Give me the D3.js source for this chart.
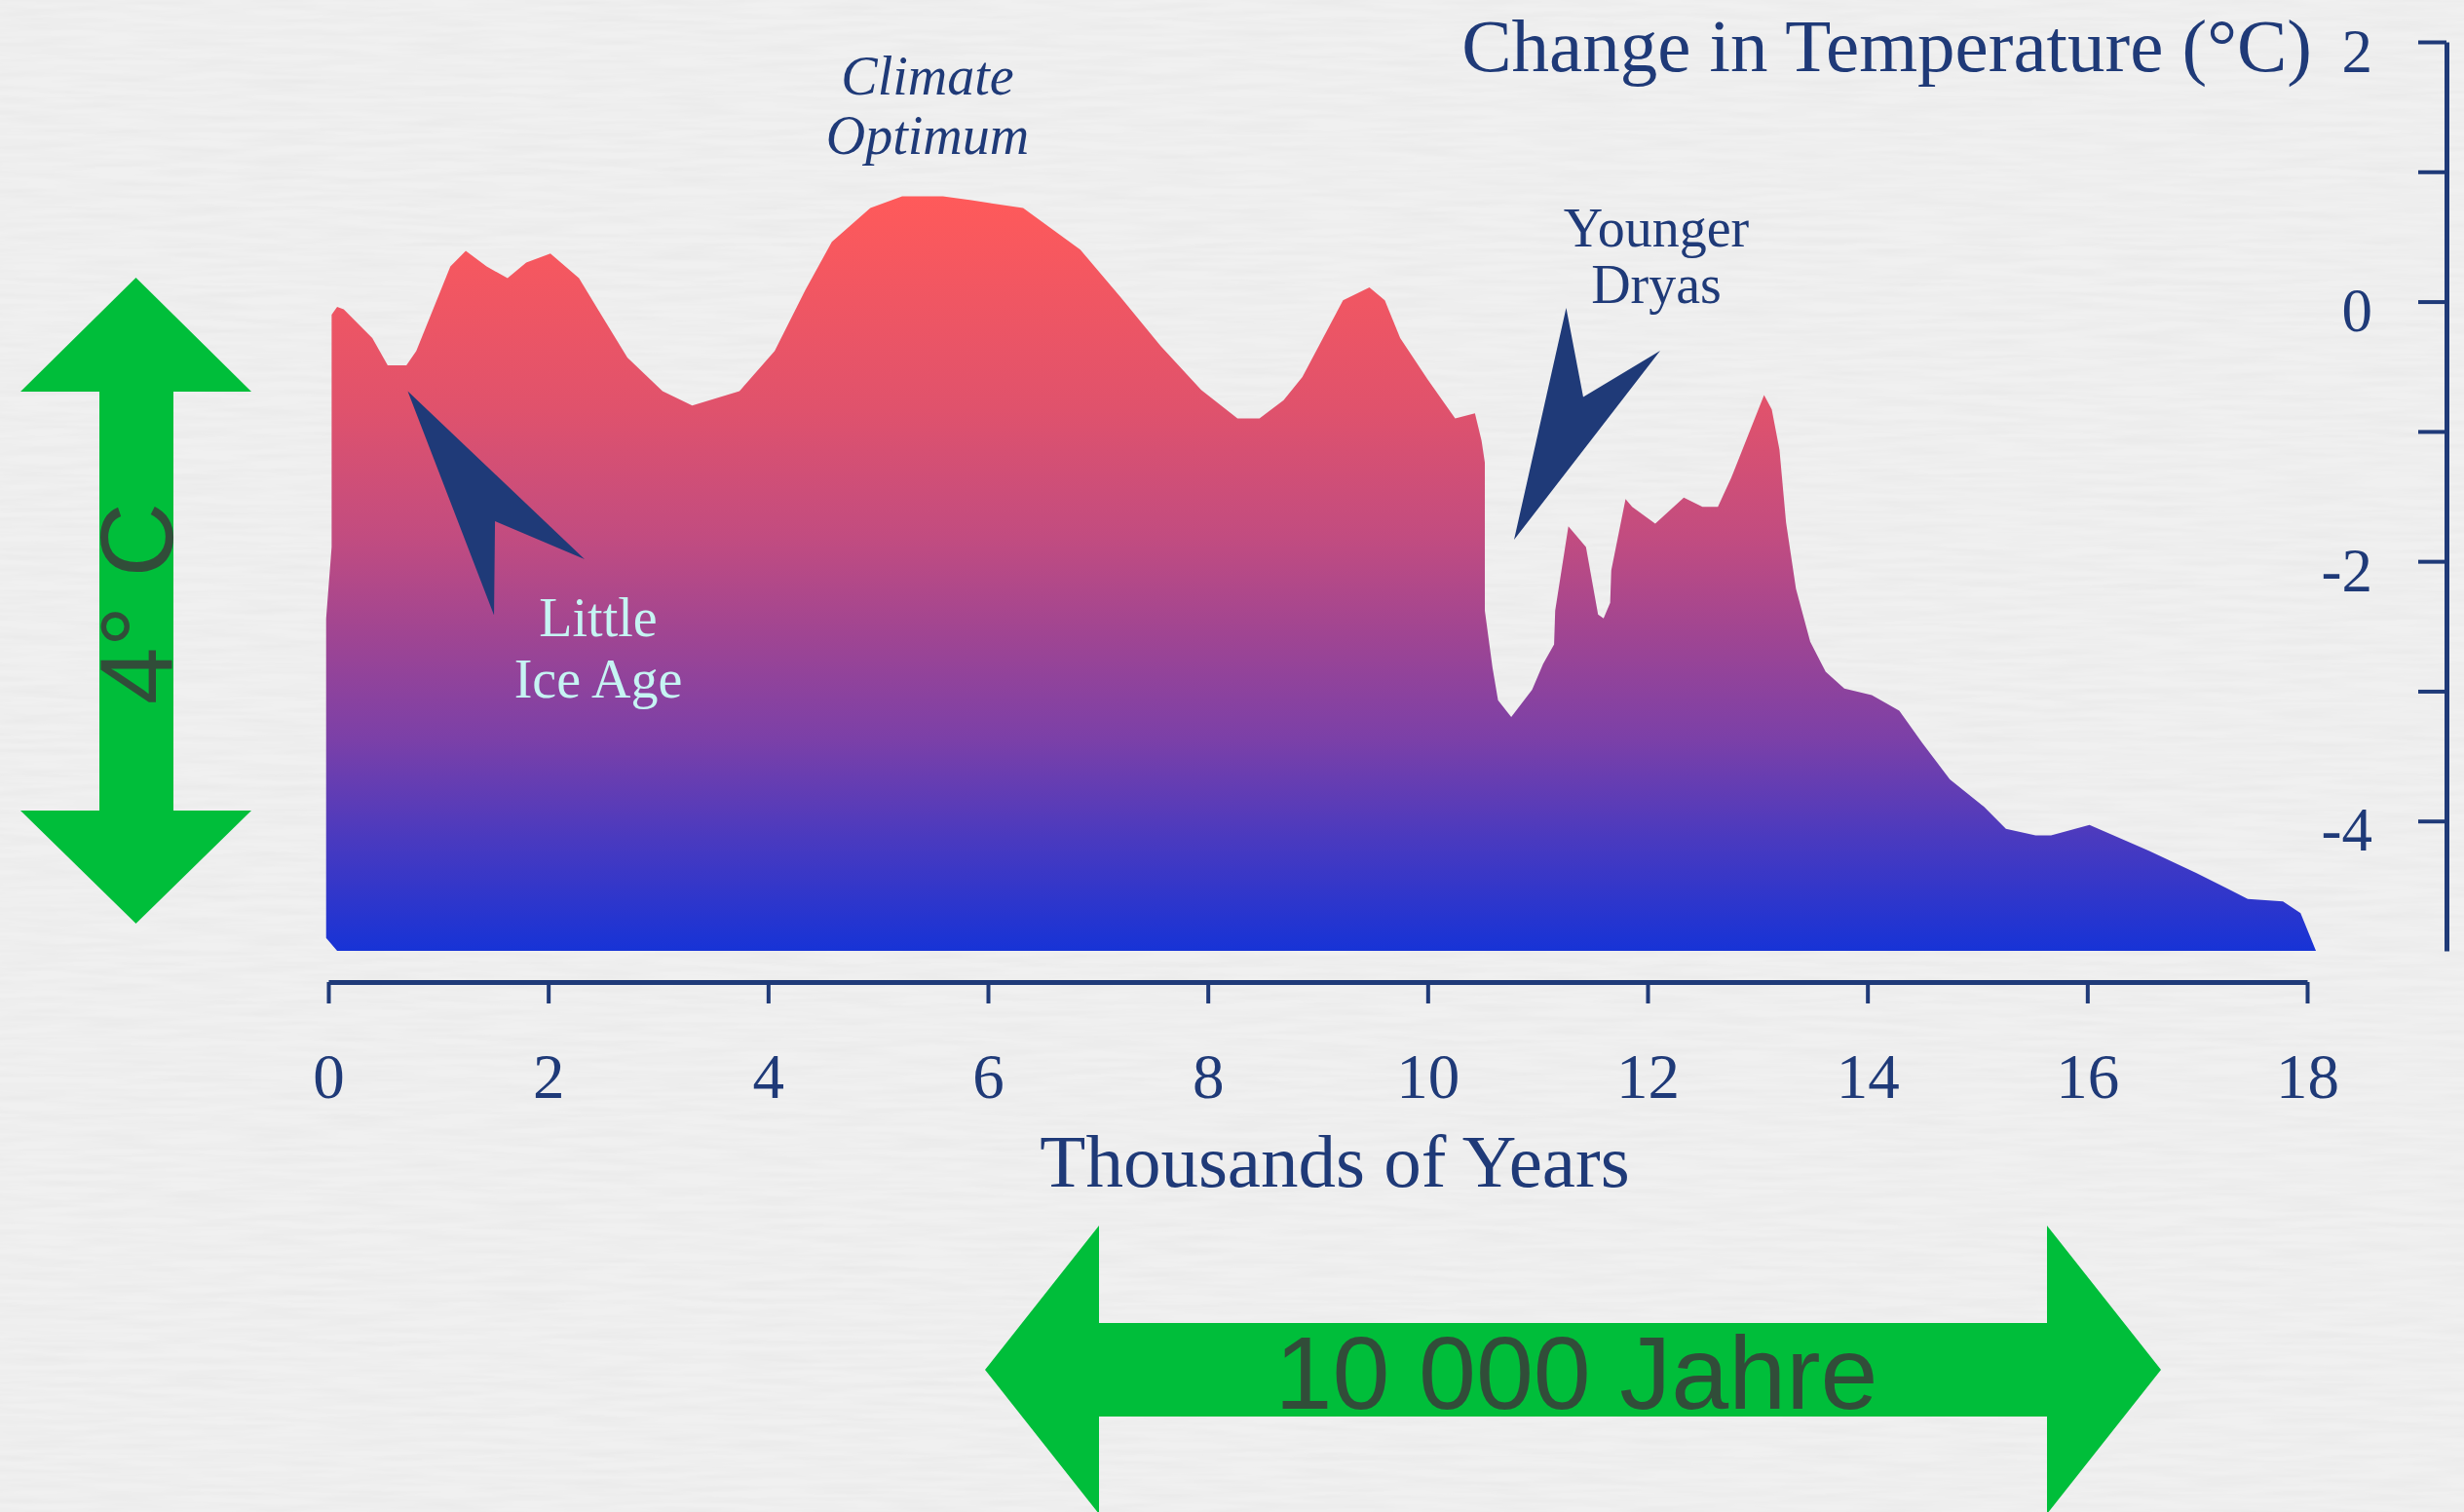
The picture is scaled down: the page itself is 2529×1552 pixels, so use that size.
<!DOCTYPE html>
<html>
<head>
<meta charset="utf-8">
<script src="https://cdn.jsdelivr.net/npm/d3@7"></script>
<style>
  html, body { margin: 0; padding: 0; background: #f0f0f0; }
  svg { display: block; }
</style>
</head>
<body>
<svg id="chart" width="2529" height="1552"></svg>
<script>
// Temperature anomaly profile (thousands of years before present, °C)
const years = [0.08, -0.02, -0.02, 0.03, 0.03, 0.08, 0.14, 0.40, 0.54, 0.71, 0.80, 1.11, 1.25, 1.44, 1.63, 1.80,
  2.02, 2.28, 2.46, 2.72, 3.04, 3.31, 3.74, 4.06, 4.34, 4.58, 4.93, 5.22, 5.59, 5.85, 6.32, 6.84, 7.21, 7.57,
  7.94, 8.27, 8.47, 8.69, 8.86, 9.23, 9.47, 9.61, 9.75, 10.00, 10.25, 10.43, 10.49, 10.52, 10.52, 10.59, 10.64,
  10.76, 10.95, 11.05, 11.15, 11.16, 11.28, 11.44, 11.55, 11.60, 11.66, 11.67, 11.80, 11.86, 12.07, 12.33,
  12.50, 12.64, 12.76, 13.06, 13.13, 13.20, 13.26, 13.35, 13.48, 13.62, 13.79, 14.04, 14.29, 14.50, 14.75,
  15.06, 15.26, 15.53, 15.67, 16.02, 16.56, 16.99, 17.46, 17.78, 17.94, 18.08];
const temps = [-5.0, -4.9, -2.44, -1.89, -0.10, -0.04, -0.06, -0.28, -0.49, -0.49, -0.38, 0.27, 0.39, 0.27, 0.18, 0.30,
  0.37, 0.18, -0.07, -0.43, -0.69, -0.80, -0.69, -0.38, 0.09, 0.46, 0.72, 0.81, 0.81, 0.78, 0.72, 0.40, 0.03, -0.34,
  -0.68, -0.90, -0.90, -0.76, -0.58, 0.01, 0.11, 0.01, -0.28, -0.60, -0.90, -0.86, -1.07, -1.24, -2.38, -2.82, -3.07,
  -3.20, -2.99, -2.79, -2.64, -2.38, -1.73, -1.89, -2.41, -2.44, -2.32, -2.07, -1.52, -1.58, -1.71, -1.51,
  -1.58, -1.58, -1.36, -0.72, -0.83, -1.14, -1.70, -2.21, -2.62, -2.85, -2.98, -3.03, -3.15, -3.40, -3.68,
  -3.89, -4.06, -4.11, -4.11, -4.03, -4.23, -4.40, -4.60, -4.62, -4.71, -5.0];

// Axis ticks
const xTicks = [0, 2, 4, 6, 8, 10, 12, 14, 16, 18];
const yTicks = [2, 1, 0, -1, -2, -3, -4];
const yLabelled = [2, 0, -2, -4];

// Pointer shapes for the annotated events, in (kyr, °C)
const iceAgePointer = [[0.722, -0.689], [2.331, -1.984], [1.516, -1.691], [1.507, -2.415]];
const dryasPointer = [[10.786, -1.834], [11.260, -0.048], [11.415, -0.734], [12.115, -0.378]];

const navy = "#1f3a78";
const green = "#00be3a";
const serif = "'Liberation Serif', 'Times New Roman', serif";
const sans = "'Liberation Sans', Arial, Helvetica, sans-serif";

const svg = d3.select("#chart");
const defs = svg.append("defs");

// faint paper texture
const paper = defs.append("filter").attr("id", "paper")
  .attr("x", 0).attr("y", 0).attr("width", "100%").attr("height", "100%");
paper.append("feTurbulence").attr("type", "fractalNoise")
  .attr("baseFrequency", "0.012 0.16").attr("numOctaves", 2).attr("seed", 7);
paper.append("feColorMatrix").attr("type", "matrix")
  .attr("values", "0 0 0 0 0.4  0 0 0 0 0.4  0 0 0 0 0.4  0.14 0 0 0 -0.045");

const grad = defs.append("linearGradient").attr("id", "warmCold")
  .attr("x1", 0).attr("y1", 0).attr("x2", 0).attr("y2", 1);
[[0, "#ff5a5a"], [0.28, "#e0526c"], [0.45, "#c24c80"], [0.58, "#a04592"],
 [0.72, "#7b40a8"], [0.85, "#4a3abf"], [1, "#1733d6"]]
  .forEach(([o, c]) => grad.append("stop").attr("offset", o).attr("stop-color", c));

svg.append("rect").attr("width", 2529).attr("height", 1552).attr("fill", "#f0f0f0");
svg.append("rect").attr("width", 2529).attr("height", 1552).attr("filter", "url(#paper)");

const x = d3.scaleLinear().domain([0, 18]).range([337, 2368]);
const y = d3.scaleLinear().domain([-5, 2]).range([976, 43]);

const series = years.map((t, i) => ({ t, v: temps[i] }));

const area = d3.area()
  .x(d => x(d.t))
  .y0(y(-5))
  .y1(d => y(d.v));

svg.append("path")
  .datum(series)
  .attr("d", area)
  .attr("fill", "url(#warmCold)");

// event pointers
const pointerLine = d3.line().x(d => x(d[0])).y(d => y(d[1]));
[iceAgePointer, dryasPointer].forEach(p => {
  svg.append("path").attr("d", pointerLine(p) + "Z").attr("fill", navy);
});

// x axis
const xAxis = svg.append("g")
  .attr("transform", `translate(0,${y(-5) + 32})`)
  .call(d3.axisBottom(x).tickValues(xTicks).tickSize(22).tickSizeOuter(0).tickFormat(d => String(d)));
xAxis.select(".domain").attr("stroke", navy).attr("stroke-width", 5);
xAxis.selectAll(".tick line").attr("stroke", navy).attr("stroke-width", 4);
xAxis.selectAll(".tick text")
  .attr("y", 119).attr("dy", 0)
  .attr("fill", navy)
  .style("font-family", serif).style("font-size", "65px");

// y axis (right side)
const yAxis = svg.append("g")
  .attr("transform", "translate(2511,0)")
  .call(d3.axisLeft(y).tickValues(yTicks).tickSize(29).tickSizeOuter(0)
    .tickFormat(d => yLabelled.includes(d) ? String(d) : ""));
yAxis.select(".domain").attr("stroke", navy).attr("stroke-width", 5);
yAxis.selectAll(".tick line").attr("stroke", navy).attr("stroke-width", 4);
yAxis.selectAll(".tick text")
  .attr("x", -76).attr("dy", 0).attr("y", 30)
  .attr("text-anchor", "end")
  .attr("fill", navy)
  .style("font-family", serif).style("font-size", "63px");

// titles
svg.append("text")
  .attr("x", 2373).attr("y", 73)
  .attr("text-anchor", "end")
  .attr("fill", navy)
  .style("font-family", serif).style("font-size", "77px")
  .text("Change in Temperature (°C)");

svg.append("text")
  .attr("x", 1370).attr("y", 1218)
  .attr("text-anchor", "middle")
  .attr("fill", navy)
  .style("font-family", serif).style("font-size", "77px")
  .text("Thousands of Years");

// annotations
function label(lines, cx, baselines, color, italic) {
  const t = svg.append("text")
    .attr("text-anchor", "middle")
    .attr("fill", color)
    .style("font-family", serif).style("font-size", "56px")
    .style("font-style", italic ? "italic" : "normal");
  lines.forEach((s, i) => t.append("tspan").attr("x", cx).attr("y", baselines[i]).text(s));
}
label(["Climate", "Optimum"], 952, [97, 158], navy, true);
label(["Younger", "Dryas"], 1700, [253, 311], navy, false);
label(["Little", "Ice Age"], 614, [653, 716], "#c6f4f3", false);

// green span arrows
const vArrow = [[139.5, 285], [258, 402], [178, 402], [178, 832], [258, 832], [139.5, 948],
  [21, 832], [102, 832], [102, 402], [21, 402]];
const hArrow = [[1011, 1406], [1128, 1258], [1128, 1358], [2101, 1358], [2101, 1258], [2218, 1406],
  [2101, 1554], [2101, 1454], [1128, 1454], [1128, 1554]];
const poly = d3.line();
svg.append("path").attr("d", poly(vArrow) + "Z").attr("fill", green);
svg.append("path").attr("d", poly(hArrow) + "Z").attr("fill", green);

svg.append("text")
  .attr("transform", "translate(177,619.5) rotate(-90)")
  .attr("text-anchor", "middle")
  .attr("fill", "#3a3a3a").attr("fill-opacity", 0.85)
  .style("font-family", sans).style("font-size", "106px")
  .text("4° C");

svg.append("text")
  .attr("x", 1618).attr("y", 1446)
  .attr("text-anchor", "middle")
  .attr("fill", "#3a3a3a").attr("fill-opacity", 0.85)
  .style("font-family", sans).style("font-size", "106px")
  .text("10 000 Jahre");
</script>
</body>
</html>
